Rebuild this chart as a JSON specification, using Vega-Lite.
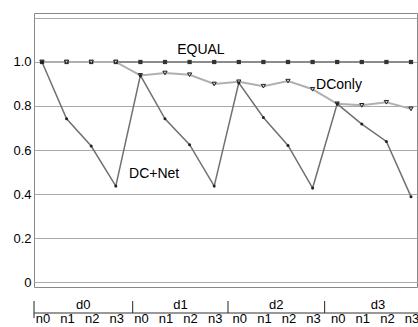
{
  "$schema": "https://vega.github.io/schema/vega-lite/v6.json",
  "padding": {"left": 12, "top": 12, "right": 0, "bottom": 0},
  "spacing": 9,
  "config": {"font": "Liberation Sans", "text": {"font": "Liberation Sans"}, "axis": {"labelFont": "Liberation Sans"}},
  "datasets": {
    "series": [
      {"series": "EQUAL", "idx": 0, "value": 1.0}, {"series": "EQUAL", "idx": 1, "value": 1.0}, {"series": "EQUAL", "idx": 2, "value": 1.0}, {"series": "EQUAL", "idx": 3, "value": 1.0},
      {"series": "EQUAL", "idx": 4, "value": 1.0}, {"series": "EQUAL", "idx": 5, "value": 1.0}, {"series": "EQUAL", "idx": 6, "value": 1.0}, {"series": "EQUAL", "idx": 7, "value": 1.0},
      {"series": "EQUAL", "idx": 8, "value": 1.0}, {"series": "EQUAL", "idx": 9, "value": 1.0}, {"series": "EQUAL", "idx": 10, "value": 1.0}, {"series": "EQUAL", "idx": 11, "value": 1.0},
      {"series": "EQUAL", "idx": 12, "value": 1.0}, {"series": "EQUAL", "idx": 13, "value": 1.0}, {"series": "EQUAL", "idx": 14, "value": 1.0}, {"series": "EQUAL", "idx": 15, "value": 1.0},
      {"series": "DConly", "idx": 0, "value": 1.0}, {"series": "DConly", "idx": 1, "value": 1.0}, {"series": "DConly", "idx": 2, "value": 1.0}, {"series": "DConly", "idx": 3, "value": 1.0},
      {"series": "DConly", "idx": 4, "value": 0.939}, {"series": "DConly", "idx": 5, "value": 0.95}, {"series": "DConly", "idx": 6, "value": 0.942}, {"series": "DConly", "idx": 7, "value": 0.90},
      {"series": "DConly", "idx": 8, "value": 0.91}, {"series": "DConly", "idx": 9, "value": 0.89}, {"series": "DConly", "idx": 10, "value": 0.913}, {"series": "DConly", "idx": 11, "value": 0.876},
      {"series": "DConly", "idx": 12, "value": 0.81}, {"series": "DConly", "idx": 13, "value": 0.803}, {"series": "DConly", "idx": 14, "value": 0.817}, {"series": "DConly", "idx": 15, "value": 0.787},
      {"series": "DC+Net", "idx": 0, "value": 1.0}, {"series": "DC+Net", "idx": 1, "value": 0.742}, {"series": "DC+Net", "idx": 2, "value": 0.618}, {"series": "DC+Net", "idx": 3, "value": 0.436},
      {"series": "DC+Net", "idx": 4, "value": 0.939}, {"series": "DC+Net", "idx": 5, "value": 0.742}, {"series": "DC+Net", "idx": 6, "value": 0.624}, {"series": "DC+Net", "idx": 7, "value": 0.436},
      {"series": "DC+Net", "idx": 8, "value": 0.905}, {"series": "DC+Net", "idx": 9, "value": 0.748}, {"series": "DC+Net", "idx": 10, "value": 0.621}, {"series": "DC+Net", "idx": 11, "value": 0.427},
      {"series": "DC+Net", "idx": 12, "value": 0.81}, {"series": "DC+Net", "idx": 13, "value": 0.718}, {"series": "DC+Net", "idx": 14, "value": 0.639}, {"series": "DC+Net", "idx": 15, "value": 0.388}
    ],
    "notesCenter": [
      {"label": "EQUAL", "idx": 6.46, "value": 1.038}
    ],
    "notesLeft": [
      {"label": "DConly", "idx": 11.14, "value": 0.879},
      {"label": "DC+Net", "idx": 3.54, "value": 0.473}
    ],
    "groups": [
      {"group": "d0", "start": -0.325, "mid": 1.68},
      {"group": "d1", "start": 3.687, "mid": 5.63},
      {"group": "d2", "start": 7.561, "mid": 9.52},
      {"group": "d3", "start": 11.49, "mid": 13.66}
    ],
    "points": [
      {"idx": 0, "n": "n0"}, {"idx": 1, "n": "n1"}, {"idx": 2, "n": "n2"}, {"idx": 3, "n": "n3"},
      {"idx": 4, "n": "n0"}, {"idx": 5, "n": "n1"}, {"idx": 6, "n": "n2"}, {"idx": 7, "n": "n3"},
      {"idx": 8, "n": "n0"}, {"idx": 9, "n": "n1"}, {"idx": 10, "n": "n2"}, {"idx": 11, "n": "n3"},
      {"idx": 12, "n": "n0"}, {"idx": 13, "n": "n1"}, {"idx": 14, "n": "n2"}, {"idx": 15, "n": "n3"}
    ]
  },
  "vconcat": [
    {
      "width": 383,
      "height": 274,
      "view": {"stroke": "#888888", "strokeWidth": 1},
      "layer": [
        {
          "data": {"name": "series"},
          "transform": [{"filter": "datum.series == 'EQUAL'"}],
          "mark": {"type": "line", "color": "#8c8c8c", "strokeWidth": 2},
          "encoding": {
            "x": {"field": "idx", "type": "quantitative", "scale": {"domain": [-0.325, 15.244], "nice": false, "zero": false}, "axis": null},
            "y": {"field": "value", "type": "quantitative", "scale": {"domain": [-0.0227, 1.2227], "nice": false, "zero": false},
              "axis": {"values": [0, 0.2, 0.4, 0.6, 0.8, 1.0, 1.2], "grid": true, "gridColor": "#aaaaaa", "gridWidth": 1, "gridOpacity": 1, "domain": false, "ticks": false, "labelPadding": 3, "labelFontSize": 13, "labelColor": "#000000", "title": null,
                "labelExpr": "datum.value > 1.1 ? '' : (datum.value == 0 ? '0' : format(datum.value, '.1f'))"}}
          }
        },
        {
          "data": {"name": "series"},
          "transform": [{"filter": "datum.series == 'DConly'"}],
          "mark": {"type": "line", "color": "#b0b0b0", "strokeWidth": 2},
          "encoding": {"x": {"field": "idx", "type": "quantitative"}, "y": {"field": "value", "type": "quantitative"}}
        },
        {
          "data": {"name": "series"},
          "transform": [{"filter": "datum.series == 'DC+Net'"}],
          "mark": {"type": "line", "color": "#707070", "strokeWidth": 1.5},
          "encoding": {"x": {"field": "idx", "type": "quantitative"}, "y": {"field": "value", "type": "quantitative"}}
        },
        {
          "data": {"name": "series"},
          "transform": [{"filter": "datum.series == 'EQUAL'"}],
          "mark": {"type": "point", "shape": "square", "filled": true, "color": "#333333", "size": 18, "opacity": 1},
          "encoding": {"x": {"field": "idx", "type": "quantitative"}, "y": {"field": "value", "type": "quantitative"}}
        },
        {
          "data": {"name": "series"},
          "transform": [{"filter": "datum.series == 'DConly'"}],
          "mark": {"type": "point", "shape": "triangle-down", "filled": true, "fill": "#cccccc", "stroke": "#222222", "strokeWidth": 1, "size": 18, "opacity": 1},
          "encoding": {"x": {"field": "idx", "type": "quantitative"}, "y": {"field": "value", "type": "quantitative"}}
        },
        {
          "data": {"name": "series"},
          "transform": [{"filter": "datum.series == 'DC+Net'"}],
          "mark": {"type": "point", "shape": "circle", "filled": true, "color": "#222222", "size": 9, "opacity": 1},
          "encoding": {"x": {"field": "idx", "type": "quantitative"}, "y": {"field": "value", "type": "quantitative"}}
        },
        {
          "data": {"name": "notesCenter"},
          "mark": {"type": "text", "fontSize": 14, "color": "#000000", "baseline": "alphabetic", "align": "center"},
          "encoding": {"x": {"field": "idx", "type": "quantitative"}, "y": {"field": "value", "type": "quantitative"}, "text": {"field": "label", "type": "nominal"}}
        },
        {
          "data": {"name": "notesLeft"},
          "mark": {"type": "text", "fontSize": 14, "color": "#000000", "baseline": "alphabetic", "align": "left"},
          "encoding": {"x": {"field": "idx", "type": "quantitative"}, "y": {"field": "value", "type": "quantitative"}, "text": {"field": "label", "type": "nominal"}}
        }
      ]
    },
    {
      "width": 383,
      "height": 12,
      "view": {"stroke": null},
      "layer": [
        {
          "data": {"name": "points"},
          "mark": {"type": "text", "fontSize": 13, "color": "#000000", "baseline": "alphabetic", "align": "center", "dx": 1},
          "encoding": {
            "x": {"field": "idx", "type": "quantitative", "scale": {"domain": [-0.325, 15.244], "nice": false, "zero": false}, "axis": null},
            "y": {"datum": -0.81, "type": "quantitative", "scale": {"domain": [0, 1], "nice": false, "zero": false}, "axis": null},
            "text": {"field": "n", "type": "nominal"}
          }
        },
        {
          "data": {"name": "groups"},
          "mark": {"type": "rule", "color": "#222222", "strokeWidth": 1},
          "encoding": {
            "x": {"field": "start", "type": "quantitative", "axis": null},
            "y": {"datum": 1, "type": "quantitative"},
            "y2": {"datum": 0}
          }
        },
        {
          "data": {"name": "groups"},
          "transform": [{"filter": "datum.group == 'd0'"}],
          "mark": {"type": "rule", "color": "#222222", "strokeWidth": 1},
          "encoding": {
            "x": {"field": "start", "type": "quantitative", "axis": null},
            "y": {"datum": 0, "type": "quantitative"},
            "y2": {"datum": -0.42}
          }
        },
        {
          "data": {"name": "groups"},
          "transform": [{"filter": "datum.group == 'd0'"}],
          "mark": {"type": "rule", "color": "#333333", "strokeWidth": 1},
          "encoding": {
            "x": {"field": "start", "type": "quantitative", "axis": null},
            "x2": {"datum": 15.3},
            "y": {"datum": 0, "type": "quantitative"}
          }
        },
        {
          "data": {"name": "groups"},
          "mark": {"type": "text", "fontSize": 13, "color": "#000000", "baseline": "alphabetic", "align": "center"},
          "encoding": {
            "x": {"field": "mid", "type": "quantitative", "axis": null},
            "y": {"datum": 0.31, "type": "quantitative"},
            "text": {"field": "group", "type": "nominal"}
          }
        }
      ]
    }
  ]
}
